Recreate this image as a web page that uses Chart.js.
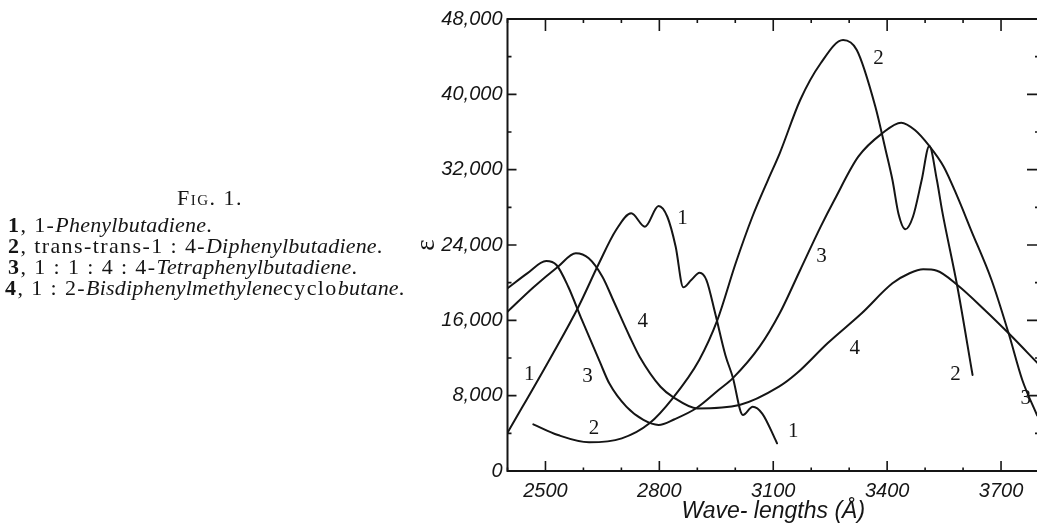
<!DOCTYPE html>
<html><head><meta charset="utf-8">
<script src="https://cdn.jsdelivr.net/npm/chart.js@4/dist/chart.umd.min.js"></script>
<style>
html,body{margin:0;padding:0;overflow:hidden;background:#fff;width:1037px;height:524px;}
#wrap{position:absolute;left:0;top:0;width:1045px;height:524px;}
.cap{position:absolute;font-family:"Liberation Serif","DejaVu Serif",serif;font-size:22px;letter-spacing:1.4px;color:#151515;white-space:nowrap;line-height:21px;}
.cap i{letter-spacing:0.2px;}
</style></head><body>
<div id="wrap"><canvas id="c"></canvas></div>
<div class="cap" style="left:177px;top:187px;font-variant:small-caps;letter-spacing:1.5px">Fig. 1.</div>
<div class="cap" style="left:8px;top:214px"><b>1</b>, 1-<i>Phenylbutadiene</i>.</div>
<div class="cap" style="left:8px;top:235px"><b>2</b>, trans-trans-1 : 4-<i>Diphenylbutadiene</i>.</div>
<div class="cap" style="left:8px;top:256px"><b>3</b>, 1 : 1 : 4 : 4-<i>Tetraphenylbutadiene</i>.</div>
<div class="cap" style="left:5px;top:277px"><b>4</b>, 1 : 2-<i>Bisdiphenylmethylene</i>cyclo<i>butane</i>.</div>
<script>
// ---- data (wavelength in Å, molar extinction ε) ----
const xTickValues = [2500, 2800, 3100, 3400, 3700];
const yTickValues = [0, 8000, 16000, 24000, 32000, 40000, 48000];

const curve1Wave = [2400, 2515, 2587, 2641, 2686, 2726, 2762, 2798, 2821, 2843, 2863, 2884, 2906, 2924, 2947, 2974, 2993, 3020, 3046, 3071, 3104, 3110];
const curve1Eps  = [4050, 12140, 17450, 22060, 25590, 27370, 25950, 28140, 27000, 23820, 19510, 20280, 21060, 20280, 16750, 12300, 10010, 5950, 6830, 6100, 3470, 2940];

const curve2Wave = [2468, 2533, 2615, 2701, 2774, 2835, 2905, 2953, 3001, 3045, 3086, 3117, 3171, 3225, 3284, 3320, 3369, 3396, 3414, 3430, 3448, 3468, 3491, 3511, 3531, 3545, 3585, 3625];
const curve2Eps  = [4960, 3820, 3050, 3470, 5070, 7720, 11790, 16040, 22060, 27000, 30900, 33740, 39400, 43300, 45770, 44710, 38690, 34090, 30900, 27300, 25670, 27000, 30900, 34520, 30900, 27600, 19570, 10200];

const curve3Wave = [2400, 2452, 2502, 2529, 2560, 2596, 2643, 2668, 2713, 2758, 2798, 2840, 2897, 2956, 2993, 3064, 3117, 3171, 3225, 3261, 3324, 3387, 3437, 3473, 3511, 3549, 3585, 3621, 3675, 3720, 3756, 3795];
const curve3Eps  = [19400, 20990, 22300, 21880, 19570, 16040, 11610, 9310, 6830, 5420, 4890, 5500, 6660, 8600, 9840, 13200, 16750, 21350, 25950, 28780, 33380, 35860, 36990, 36210, 34520, 32320, 29130, 25590, 20280, 14620, 9660, 5900];

const curve4Wave = [2400, 2470, 2533, 2580, 2614, 2650, 2680, 2722, 2748, 2803, 2838, 2900, 3011, 3115, 3162, 3243, 3333, 3414, 3459, 3495, 3531, 3585, 3657, 3720, 3800];
const curve4Eps  = [16920, 19570, 21700, 23120, 22590, 20630, 18000, 14260, 12140, 8950, 7800, 6650, 7010, 8950, 10370, 13560, 16750, 19930, 21000, 21420, 21270, 19750, 17100, 14620, 11300];

// curve number annotations placed in data coordinates
const labelText = ['1', '1', '1', '2', '2', '2', '3', '3', '3', '4', '4'];
const labelWave = [2861, 2457, 3153, 3377, 2628, 3580, 2611, 3227, 3765, 2756, 3315];
const labelEps  = [26840, 10200, 4170, 43830, 4530, 10200, 10020, 22760, 7720, 15860, 13030];

const pts = (w, e) => w.map((v, i) => ({x: v, y: e[i]}));
const ink = '#151515';
const lineStyle = {borderColor: ink, borderWidth: 2, pointRadius: 0, fill: false, cubicInterpolationMode: 'monotone', borderCapStyle: 'round', borderJoinStyle: 'round'};

const frameTicks = {
  id: 'frameTicks',
  afterDraw(chart) {
    const {ctx, chartArea: a, scales: {x, y}} = chart;
    ctx.save();
    ctx.strokeStyle = ink;
    ctx.lineWidth = 2;
    ctx.strokeRect(a.left, a.top, a.right - a.left, a.bottom - a.top);
    ctx.lineWidth = 1.6;
    ctx.beginPath();
    for (let v = x.min; v <= x.max; v += 100) {
      const px = x.getPixelForValue(v);
      const major = xTickValues.includes(v);
      ctx.moveTo(px, a.bottom); ctx.lineTo(px, a.bottom - (major ? 10 : 3.5));
      ctx.moveTo(px, a.top); ctx.lineTo(px, a.top + (major ? 12 : 4));
    }
    for (let v = y.min; v <= y.max; v += 4000) {
      const py = y.getPixelForValue(v);
      const major = yTickValues.includes(v);
      ctx.moveTo(a.left, py); ctx.lineTo(a.left + (major ? 9 : 4), py);
      ctx.moveTo(a.right, py); ctx.lineTo(a.right - (major ? 12 : 4), py);
    }
    ctx.stroke();
    ctx.restore();
  },
  afterDatasetsDraw(chart) {
    const {ctx, scales: {x, y}} = chart;
    ctx.save();
    ctx.fillStyle = ink;
    ctx.font = '21px "Liberation Serif", serif';
    ctx.textAlign = 'center';
    ctx.textBaseline = 'middle';
    labelText.forEach((t, i) => ctx.fillText(t, x.getPixelForValue(labelWave[i]), y.getPixelForValue(labelEps[i])));
    ctx.restore();
  }
};

const tickFont = {family: '"Liberation Sans", Arial, sans-serif', style: 'italic', size: 20};

new Chart(document.getElementById('c'), {
  type: 'line',
  data: {
    datasets: [
      {label: '1', data: pts(curve1Wave, curve1Eps), ...lineStyle},
      {label: '2', data: pts(curve2Wave, curve2Eps), ...lineStyle},
      {label: '3', data: pts(curve3Wave, curve3Eps), ...lineStyle},
      {label: '4', data: pts(curve4Wave, curve4Eps), ...lineStyle}
    ]
  },
  options: {
    responsive: true,
    maintainAspectRatio: false,
    animation: false,
    layout: {padding: {left: 413, top: 19, right: 6, bottom: 0}},
    plugins: {legend: {display: false}, tooltip: {enabled: false}},
    scales: {
      x: {
        type: 'linear', min: 2400, max: 3800,
        afterBuildTicks: s => { s.ticks = xTickValues.map(v => ({value: v})); },
        afterFit: s => { s.height = 53; },
        grid: {display: false, drawTicks: false},
        border: {display: false},
        ticks: {padding: 8, color: ink, font: tickFont, maxRotation: 0, autoSkip: false, callback: v => String(v)},
        title: {display: true, text: 'Wave- lengths (Å)', color: ink,
                font: {family: '"Liberation Sans", Arial, sans-serif', style: 'italic', size: 23, lineHeight: 1},
                padding: {top: 0, bottom: 1}}
      },
      y: {
        type: 'linear', min: 0, max: 48000,
        afterBuildTicks: s => { s.ticks = yTickValues.map(v => ({value: v})); },
        afterFit: s => { s.width = 94.5; },
        grid: {display: false, drawTicks: false},
        border: {display: false},
        ticks: {padding: 5, color: ink, font: tickFont, callback: v => v.toLocaleString('en-US')},
        title: {display: true, text: 'ε', color: ink,
                font: {family: '"Liberation Serif", serif', size: 27, lineHeight: 1},
                padding: {top: 0, bottom: 0}}
      }
    }
  },
  plugins: [frameTicks]
});
</script>
</body></html>
